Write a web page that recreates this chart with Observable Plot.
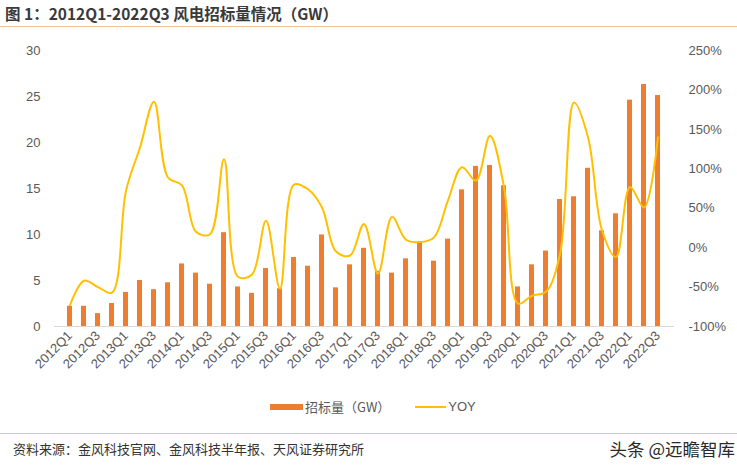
<!DOCTYPE html>
<html><head><meta charset="utf-8">
<script src="https://cdn.jsdelivr.net/npm/d3@7"></script>
<script src="https://cdn.jsdelivr.net/npm/@observablehq/plot@0.6"></script>
<style>
body{margin:0;background:#fff;font-family:"Noto Sans CJK SC","Liberation Sans",sans-serif;}
#wrap{position:relative;width:737px;height:466px;overflow:hidden;}
#title{position:absolute;left:5px;top:2px;font-size:15.5px;font-weight:bold;color:#3a3a3a;white-space:nowrap;}
#tline{position:absolute;left:0;top:26px;width:737px;height:1px;background:#e9c594;}
#fline{position:absolute;left:0;top:433px;width:737px;height:1px;background:#e9c594;}
#foot{position:absolute;left:13px;top:439px;font-size:13px;color:#333;white-space:nowrap;}
#wm{position:absolute;right:2px;top:436px;font-size:17.5px;color:#2a2a2a;white-space:nowrap;}
#legend{position:absolute;left:270px;top:397px;font-size:13px;color:#595959;white-space:nowrap;display:flex;align-items:center;}
.sw{display:inline-block;}
#chart{position:absolute;left:0;top:0;}
</style></head>
<body><div id="wrap">
<div id="chart"></div>
<div id="title">图 1：2012Q1-2022Q3 风电招标量情况（GW）</div>
<div id="tline"></div>
<div id="legend"><span class="sw" style="width:33px;height:6px;background:#ED7D31;margin-right:2px"></span><span>招标量（GW）</span><span class="sw" style="width:31px;height:2px;background:#FFC000;margin-left:25px;margin-right:2px"></span><span style="font-family:'Liberation Sans'">YOY</span></div>
<div id="fline"></div>
<div id="foot">资料来源：金风科技官网、金风科技半年报、天风证券研究所</div>
<div id="wm">头条 @远瞻智库</div>
</div>
<script>
const quarters = [];
for (let y = 2012; y <= 2022; y++) for (let q = 1; q <= 4; q++) if (!(y === 2022 && q === 4)) quarters.push(`${y}Q${q}`);
const bidVolume = [2.2,2.2,1.4,2.5,3.7,5.0,4.0,4.75,6.8,5.8,4.6,10.2,4.3,3.6,6.3,4.1,7.5,6.55,9.95,4.2,6.7,8.5,6.0,5.8,7.35,9.2,7.1,9.5,14.85,17.4,17.5,15.3,4.3,6.7,8.2,13.8,14.1,17.2,10.4,12.25,24.6,26.3,25.1];
const yoy = [-73,-42,-50,-57,72,127,185,89,79,20,17,112,-37,-34,34,-52,80,74,51,-5,-10,30,-33,39,10,7,13,60,102,85,142,77,-71,-61,-56,-8,184,140,22,-12,77,51,140];
const tickLabels = quarters.filter((d, i) => i % 2 === 0);
const pctTicks = [-100,-50,0,50,100,150,200,250];

const toLeft = p => (p + 100) * 30 / 350;
const data = quarters.map((q, i) => ({q, v: bidVolume[i], yoy: yoy[i], yl: toLeft(yoy[i])}));

const font = "Liberation Sans, Noto Sans CJK SC, sans-serif";
const chart = Plot.plot({
  width: 737, height: 466,
  marginLeft: 54, marginRight: 63, marginTop: 50, marginBottom: 140,
  style: {fontFamily: font, fontSize: "13px", color: "#595959", background: "transparent"},
  x: {type: "band", domain: quarters, padding: 0.64, align: 0.5},
  y: {domain: [0, 30]},
  marks: [
    Plot.ruleY([0], {stroke: "#d9d9d9", strokeWidth: 1}),
    Plot.barY(data, {x: "q", y: "v", fill: "#ED7D31"}),
    Plot.line(data, {x: "q", y: "yl", stroke: "#FFC000", strokeWidth: 2, curve: "catmull-rom"}),
    Plot.axisY({anchor: "left", ticks: [0,5,10,15,20,25,30], tickSize: 0, tickPadding: 14, label: null, fill: "#595959"}),
    Plot.axisY({anchor: "right", ticks: pctTicks.map(toLeft), tickFormat: (d, i) => pctTicks[i] + "%", tickSize: 0, tickPadding: 14, label: null, fill: "#595959"}),
    Plot.axisX({ticks: tickLabels, tickSize: 0, tickPadding: 7, tickRotate: -45, label: null, fill: "#595959"})
  ]
});
document.getElementById("chart").appendChild(chart);
</script>
</body></html>
